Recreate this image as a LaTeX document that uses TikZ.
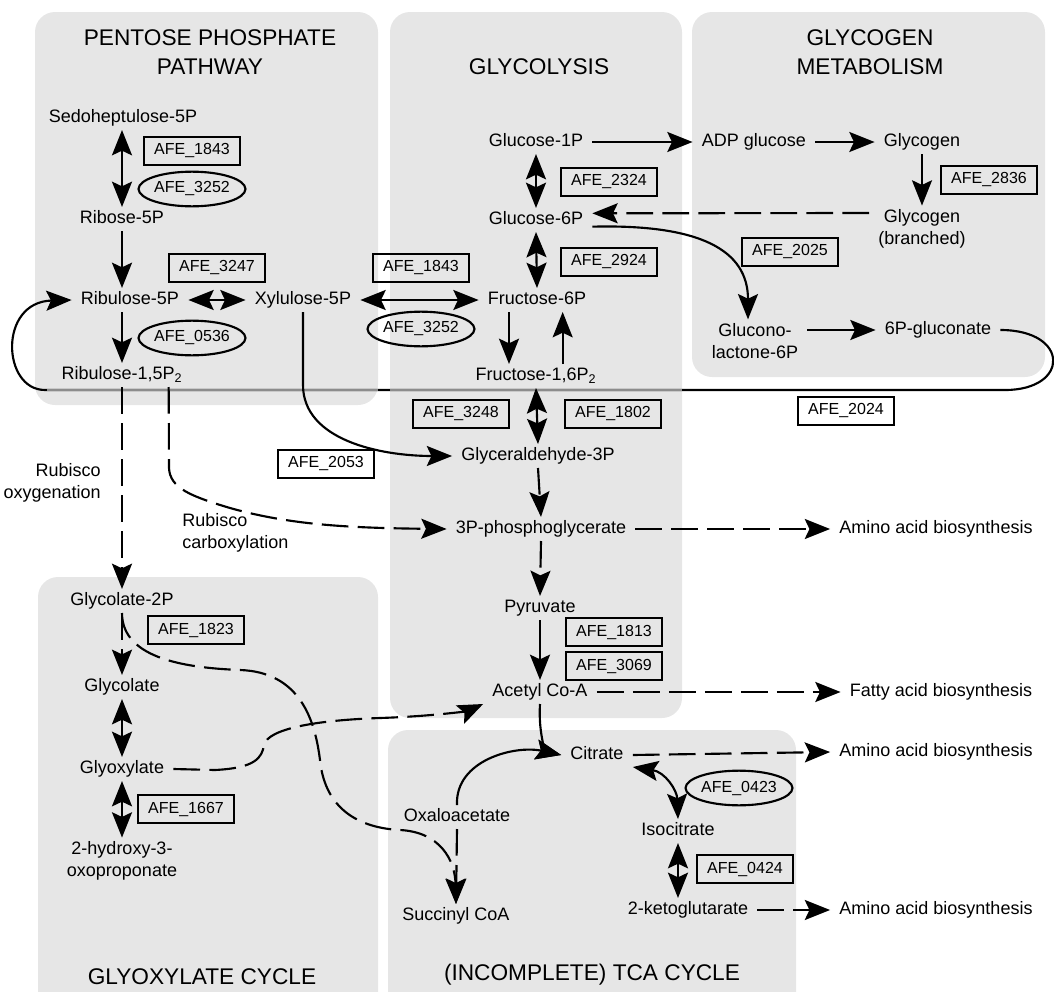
\documentclass[tikz,border=0pt]{standalone}
\usepackage{fontspec}
\setmainfont{Liberation Sans}
\usetikzlibrary{arrows.meta,shapes.geometric,calc}
\definecolor{boxc}{RGB}{230,230,230}
\definecolor{lineg}{RGB}{140,140,140}
\newcommand\metfont{\fontsize{13.5}{16.5}\selectfont}
\newcommand\enzfont{\fontsize{12}{14}\selectfont}
\newcommand\ttlfont{\fontsize{17}{21.75}\selectfont}
\begin{document}
\begin{tikzpicture}[x=0.75pt,y=-0.75pt,
  met/.style={font=\metfont, inner xsep=4pt, inner ysep=0pt, outer sep=3pt, text height=9.5pt, text depth=2.5pt},
  metm/.style={font=\metfont, align=center, inner xsep=4pt, inner ysep=0pt, outer sep=3pt},
  enz/.style={draw, line width=1.6pt, font=\enzfont, minimum width=72pt, minimum height=21.5pt, inner sep=0pt},
  enzo/.style={draw, ellipse, line width=1.6pt, font=\enzfont, minimum width=68pt, minimum height=26pt, inner sep=0pt},
  ttl/.style={font=\ttlfont, align=center},
  pbox/.style={fill=boxc, rounded corners=15pt},
  arw/.style={line width=1.6pt, -{Stealth[length=19pt,width=15pt,inset=3.5pt]}},
  darw/.style={line width=1.6pt, {Stealth[length=19pt,width=15pt,inset=3.5pt]}-{Stealth[length=19pt,width=15pt,inset=3.5pt]}},
  dsh/.style={dash pattern=on 20pt off 7pt}
]
\useasboundingbox (0,0) rectangle (1054,992);
\clip (0,0) rectangle (1054,992);
% background panels
\fill[pbox] (35,12) rectangle (378,405);
\fill[pbox] (390,12) rectangle (682,718);
\fill[pbox] (692,12) rectangle (1045,377);
\fill[pbox] (38,577) rectangle (378,1015);
\fill[pbox] (388,730) rectangle (796,1015);
% titles
\node[ttl] (tppp) at (210,52) {PENTOSE PHOSPHATE\\PATHWAY};
\node[ttl] (tgly) at (539,67) {GLYCOLYSIS};
\node[ttl] (tgcg) at (870,52) {GLYCOGEN\\METABOLISM};
\node[ttl] (tgox) at (202,977) {GLYOXYLATE CYCLE};
\node[ttl] (ttca) at (592,975) {(INCOMPLETE) TCA CYCLE};
% metabolites
\node[met] (sedo) at (123,118) {Sedoheptulose-5P};
\node[met] (r5p) at (122,219) {Ribose-5P};
\node[met] (ru5p) at (130,300) {Ribulose-5P};
\node[met] (x5p) at (303,300) {Xylulose-5P};
\node[met] (rubp) at (122,375) {Ribulose-1,5P\textsubscript{2}};
\node[met] (g1p) at (536,142) {Glucose-1P};
\node[met] (g6p) at (536,220) {Glucose-6P};
\node[met] (f6p) at (537,300) {Fructose-6P};
\node[met] (fbp) at (536,376) {Fructose-1,6P\textsubscript{2}};
\node[met] (gap) at (538,456) {Glyceraldehyde-3P};
\node[met] (pga) at (541,529) {3P-phosphoglycerate};
\node[met] (pyr) at (540,608) {Pyruvate};
\node[met] (acoa) at (540,692) {Acetyl Co-A};
\node[met] (adpg) at (754,142) {ADP glucose};
\node[met] (glyc) at (922,142) {Glycogen};
\node[metm] (glycb) at (922,229) {Glycogen\\(branched)};
\node[metm] (glac) at (755,341) {Glucono-\\lactone-6P};
\node[met] (pgl) at (938,330) {6P-gluconate};
\node[met] (aa1) at (936,529) {Amino acid biosynthesis};
\node[met] (fa) at (941,692) {Fatty acid biosynthesis};
\node[met] (aa2) at (936,752) {Amino acid biosynthesis};
\node[met] (aa3) at (936,910) {Amino acid biosynthesis};
\node[met] (cit) at (597,755) {Citrate};
\node[met] (oaa) at (457,817) {Oxaloacetate};
\node[met] (succ) at (456,916) {Succinyl CoA};
\node[met] (icit) at (678,831) {Isocitrate};
\node[met] (akg) at (688,910) {2-ketoglutarate};
\node[met] (g2p) at (122,601) {Glycolate-2P};
\node[met] (glyco) at (122,687) {Glycolate};
\node[met] (glyox) at (122,769) {Glyoxylate};
\node[metm] (hop) at (122,861) {2-hydroxy-3-\\oxoproponate};
\node[metm, align=right, anchor=east] (rox) at (110,483) {Rubisco\\oxygenation};
\node[metm, align=left, anchor=west] (rcarb) at (173,533) {Rubisco\\carboxylation};
% enzymes
\node[enz] (e1843a) at (192,151) {AFE\_1843};
\node[enzo] (e3252a) at (192,189) {AFE\_3252};
\node[enz] (e3247) at (217,268) {AFE\_3247};
\node[enzo] (e0536) at (192,338) {AFE\_0536};
\node[enz] (e1843b) at (421,268) {AFE\_1843};
\node[enzo] (e3252b) at (421,329) {AFE\_3252};
\node[enz] (e2324) at (609,182) {AFE\_2324};
\node[enz] (e2924) at (609,262) {AFE\_2924};
\node[enz] (e2836) at (989,180) {AFE\_2836};
\node[enz] (e2025) at (790,252) {AFE\_2025};
\node[enz] (e3248) at (461,414) {AFE\_3248};
\node[enz] (e1802) at (613,414) {AFE\_1802};
\node[enz] (e2053) at (326,464) {AFE\_2053};
\node[enz] (e2024) at (846,411) {AFE\_2024};
\node[enz] (e1813) at (614,632) {AFE\_1813};
\node[enz] (e3069) at (614,666) {AFE\_3069};
\node[enz] (e1823) at (196,630) {AFE\_1823};
\node[enz] (e1667) at (186,809) {AFE\_1667};
\node[enzo] (e0423) at (739,788) {AFE\_0423};
\node[enz] (e0424) at (745,869) {AFE\_0424};
% long loop 6P-gluconate -> Ribulose-5P
\draw[arw] (pgl.east) .. controls (1070,330) and (1070,390) .. (1005,390) -- (45,390) .. controls (2,390) and (-2,302) .. (ru5p.west);
\draw[line width=2pt, lineg] (47,390) -- (378,390) (390,390) -- (682,390);
% pentose phosphate
\draw[darw] (sedo.south -| r5p.south) -- (r5p.north);
\draw[arw] (r5p.south) -- (r5p.south |- ru5p.north);
\draw[darw] (ru5p.east) -- (x5p.west);
\draw[darw] (x5p.east) -- (f6p.west);
\draw[arw] (rubp.north |- ru5p.south) -- (rubp.north);
\draw[arw, dsh] (rubp.south) -- (g2p.north);
\draw[arw, dsh] ([xshift=35pt]rubp.south) -- (169,468) .. controls (170,488) and (190,496) .. (230,508) .. controls (290,525) and (350,528) .. (pga.west);
\draw[arw] (x5p.south) -- (303,385) .. controls (303,440) and (380,456) .. (gap.west);
% glycolysis / glycogen
\draw[arw] (g1p.east) -- (adpg.west);
\draw[arw] (adpg.east) -- (glyc.west);
\draw[arw] (glyc.south) -- (glycb.north);
\draw[arw, dsh] ([yshift=12pt]glycb.west) -- ([yshift=5pt]g6p.east);
\draw[darw] (g1p.south) -- (g6p.north);
\draw[darw] (g6p.south) -- (f6p.north);
\draw[arw] ([yshift=-5pt]g6p.east) .. controls (700,224) and (748,250) .. (glac.north -| 748,0);
\draw[arw] (glac.east |- pgl.west) -- (pgl.west);
\draw[arw] ([xshift=-21pt]f6p.south) -- ([xshift=-21pt]f6p.south |- fbp.north);
\draw[arw] ([xshift=20pt]fbp.north) -- ([xshift=20pt]fbp.north |- f6p.south);
\draw[darw] (fbp.south) -- (gap.north);
\draw[arw, dsh] (gap.south) -- (pga.north);
\draw[arw, dsh] (pga.east) -- (aa1.west);
\draw[arw, dsh] (pga.south) -- (pyr.north);
\draw[arw] (pyr.south) -- (acoa.north);
\draw[arw, dsh] (acoa.east) -- (fa.west);
% TCA
\draw[arw] (acoa.south) .. controls (538,738) and (548,752) .. (cit.west);
\draw[arw] (oaa.north) .. controls (455,760) and (515,745) .. (cit.west);
\draw[arw, dsh] (cit.east) -- (aa2.west);
\draw[darw] (cit.south east) .. controls (665,772) and (677,790) .. (icit.north);
\draw[darw] (icit.south) -- (icit.south |- akg.north);
\draw[arw, dsh] (akg.east) -- (aa3.west);
\draw[arw, dsh] (oaa.south) -- (succ.north);
% glyoxylate
\draw[arw, dsh] (g2p.south) .. controls (122,660) and (190,668) .. (240,670) .. controls (300,672) and (315,720) .. (320,760) .. controls (325,810) and (360,828) .. (400,830) .. controls (440,832) and (455,860) .. (succ.north);
\draw[arw, dsh] (g2p.south) -- (glyco.north);
\draw[darw] (glyco.south) -- (glyox.north);
\draw[arw, dsh] (glyox.east) -- (215,770) .. controls (255,768) and (262,758) .. (264,745) .. controls (268,728) and (320,720) .. (380,718) .. controls (440,716) and (470,710) .. (acoa.south west);
\draw[darw] (glyox.south) -- (hop.north);
\end{tikzpicture}
\end{document}
